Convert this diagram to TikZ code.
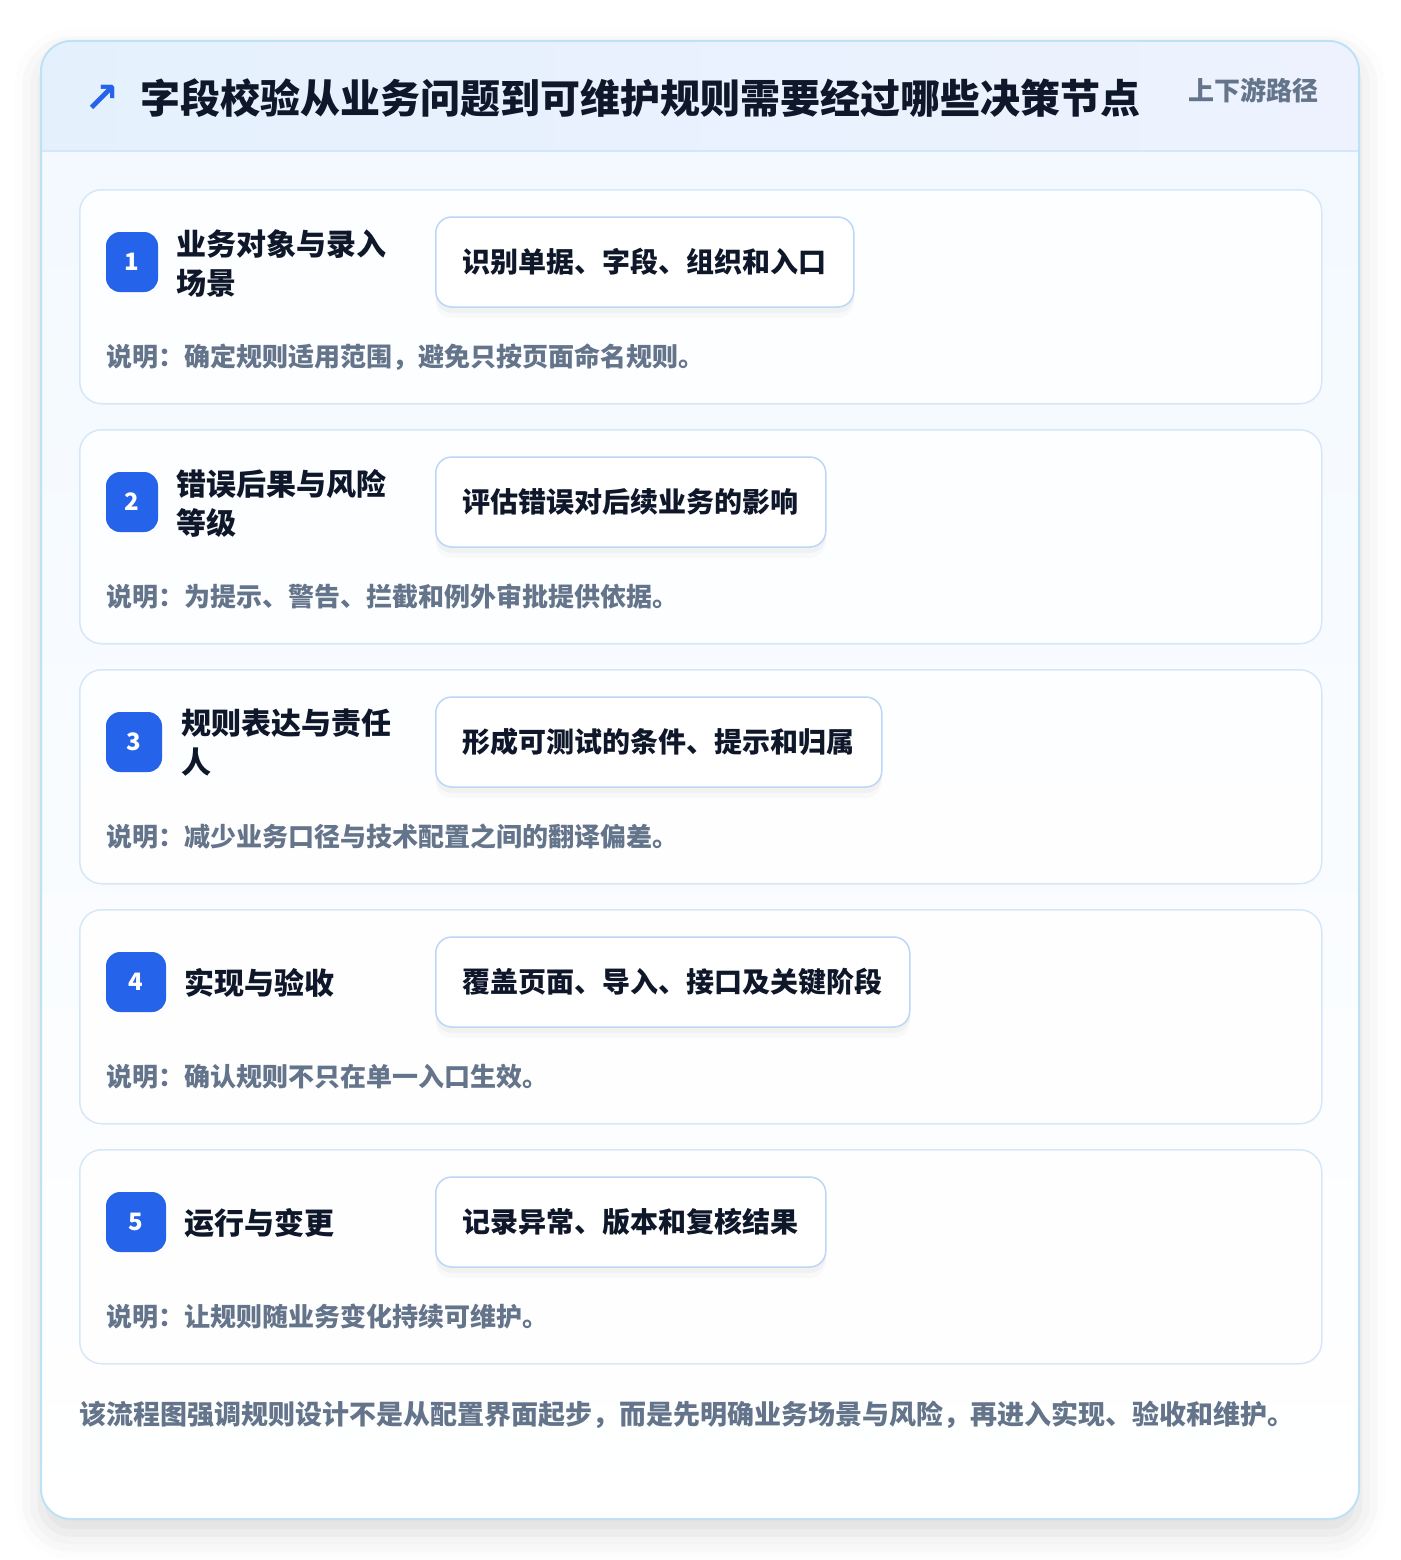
\documentclass[tikz,border=0pt]{standalone}
\usepackage{fontspec}
\setmainfont{Noto Sans CJK SC}
\newfontfamily\symfont{DejaVu Sans}
\usepackage{tikz}
\usetikzlibrary{shadows, shadows.blur}

\definecolor{badgeblue}{HTML}{2563EB}
\definecolor{titleink}{HTML}{0F172A}
\definecolor{noteink}{HTML}{64748B}
\definecolor{outerline}{HTML}{BEE1F6}
\definecolor{headleft}{HTML}{E4F1FD}
\definecolor{headright}{HTML}{EDF2FE}
\definecolor{headrule}{HTML}{D3E7FA}
\definecolor{bodytop}{HTML}{F3F9FF}
\definecolor{cardline}{HTML}{D8E7F8}
\definecolor{boxline}{HTML}{BDD6F6}

\begin{document}
\begin{tikzpicture}[x=1pt,y=-1pt,
	card/.style={draw=cardline, line width=1.5pt, fill=white, fill opacity=0.85, text opacity=1,
		rounded corners=22pt, minimum width=1242pt, minimum height=214pt, anchor=north west},
	badge/.style={fill=badgeblue, text=white, rounded corners=14pt, minimum height=60pt,
		font=\bfseries\fontsize{24}{24}\selectfont, inner sep=0pt},
	steptitle/.style={anchor=west, inner sep=0pt, align=left, text=titleink,
		font=\bfseries\fontsize{30}{39}\selectfont},
	actionbox/.style={draw=boxline, line width=1.5pt, fill=white, rounded corners=16pt,
		minimum height=90pt, inner xsep=27pt, anchor=west, text=titleink,
		font=\bfseries\fontsize{28}{28}\selectfont,
		general shadow={fill=black, opacity=0.02, shadow yshift=-11pt},
		general shadow={fill=black, opacity=0.03, shadow yshift=-6pt}},
	note/.style={anchor=west, inner sep=0pt, text=noteink, font=\bfseries\fontsize{26}{26}\selectfont}]
	\useasboundingbox (0,0) rectangle (1400,1560);
	% 外枠の描画
	\path[fill=white, rounded corners=30pt,
		blur shadow={shadow xshift=0pt, shadow yshift=-14pt, shadow blur radius=26pt, shadow opacity=14}]
		(41,41) rectangle (1359,1519);
	\begin{scope}
		\clip[rounded corners=30pt] (41,41) rectangle (1359,1519);
		\shade[left color=headleft, right color=headright] (41,41) rectangle (1359,151);
		\shade[top color=bodytop, bottom color=white] (41,151) rectangle (1359,1519);
	\end{scope}
	\draw[headrule, line width=1.5pt] (41,151) -- (1359,151);
	\draw[outerline, line width=2pt, rounded corners=30pt] (41,41) rectangle (1359,1519);
	% 見出しの描画
	\node[text=badgeblue, inner sep=0pt, font=\symfont\bfseries\fontsize{42}{42}\selectfont] (head_icon) at (102,99) {↗};
	\node[anchor=west, inner sep=0pt, text=titleink, font=\bfseries\fontsize{40}{40}\selectfont] (head_title) at (140,98)
		{字段校验从业务问题到可维护规则需要经过哪些决策节点};
	\node[anchor=west, inner sep=0pt, text=noteink, font=\bfseries\fontsize{26}{26}\selectfont] (head_tag) at (1188,90)
		{上下游路径};
	% 段階1
	\node[card] (card_1) at (79,189) {};
	\node[badge, minimum width=52pt] (badge_1) at (132,262) {1};
	\node[steptitle] (title_1) at (176,263) {业务对象与录入\\场景};
	\node[actionbox] (box_1) at (435,262) {识别单据、字段、组织和入口};
	\node[note] (note_1) at (106,357) {说明：确定规则适用范围，避免只按页面命名规则。};
	% 段階2
	\node[card] (card_2) at (79,429) {};
	\node[badge, minimum width=52pt] (badge_2) at (132,502) {2};
	\node[steptitle] (title_2) at (176,503) {错误后果与风险\\等级};
	\node[actionbox] (box_2) at (435,502) {评估错误对后续业务的影响};
	\node[note] (note_2) at (106,597) {说明：为提示、警告、拦截和例外审批提供依据。};
	% 段階3
	\node[card] (card_3) at (79,669) {};
	\node[badge, minimum width=56pt] (badge_3) at (134,742) {3};
	\node[steptitle] (title_3) at (181,743) {规则表达与责任\\人};
	\node[actionbox] (box_3) at (435,742) {形成可测试的条件、提示和归属};
	\node[note] (note_3) at (106,837) {说明：减少业务口径与技术配置之间的翻译偏差。};
	% 段階4
	\node[card] (card_4) at (79,909) {};
	\node[badge, minimum width=60pt] (badge_4) at (136,982) {4};
	\node[steptitle] (title_4) at (184,983) {实现与验收};
	\node[actionbox] (box_4) at (435,982) {覆盖页面、导入、接口及关键阶段};
	\node[note] (note_4) at (106,1077) {说明：确认规则不只在单一入口生效。};
	% 段階5
	\node[card] (card_5) at (79,1149) {};
	\node[badge, minimum width=60pt] (badge_5) at (136,1222) {5};
	\node[steptitle] (title_5) at (184,1223) {运行与变更};
	\node[actionbox] (box_5) at (435,1222) {记录异常、版本和复核结果};
	\node[note] (note_5) at (106,1317) {说明：让规则随业务变化持续可维护。};
	% 結びの文
	\node[anchor=west, inner sep=0pt, text=noteink, font=\bfseries\fontsize{27}{27}\selectfont] (summary) at (79,1415)
		{该流程图强调规则设计不是从配置界面起步，而是先明确业务场景与风险，再进入实现、验收和维护。};
\end{tikzpicture}
\end{document}
